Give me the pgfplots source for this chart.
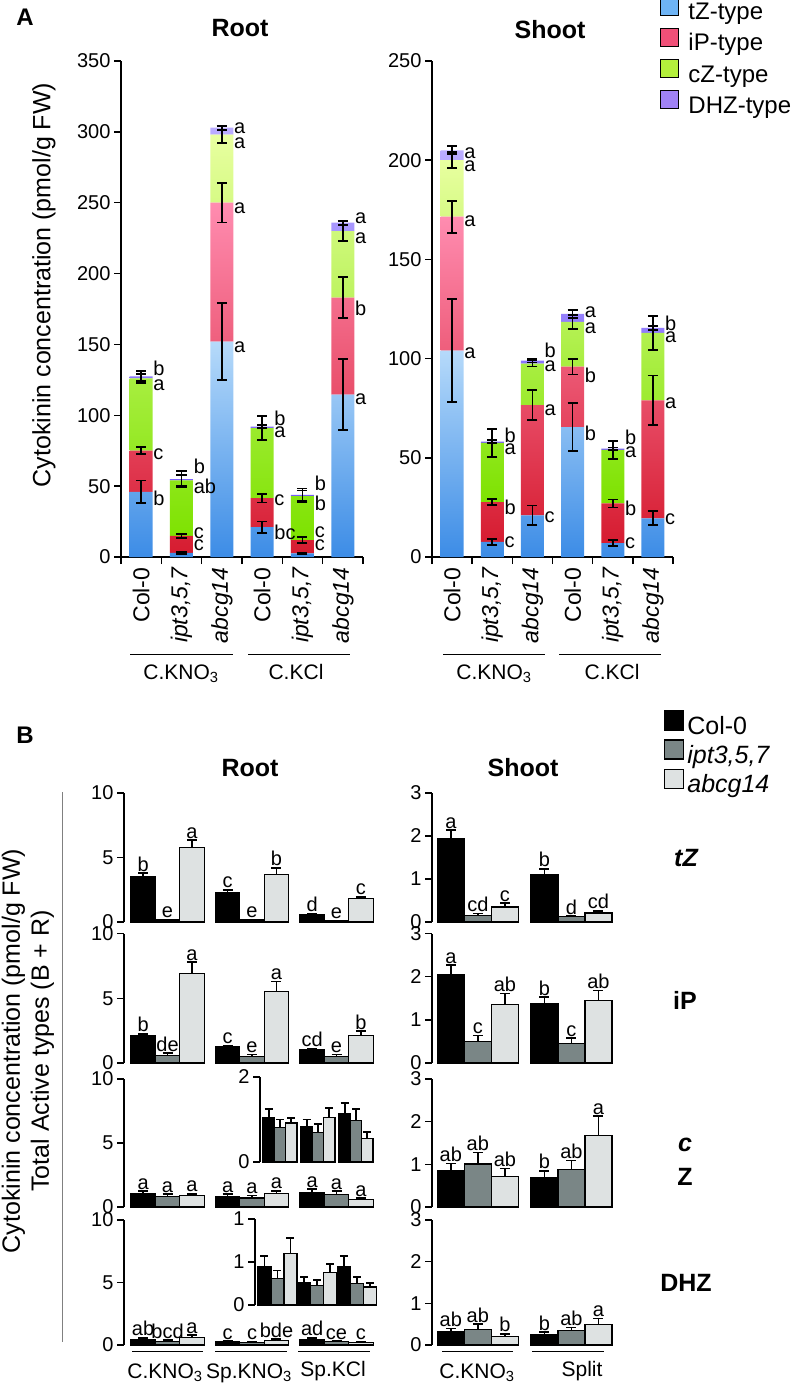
\documentclass[border=0pt]{standalone}
\usepackage{fontspec}
\setmainfont{Liberation Sans}
\usepackage{pgfplots}
\usepackage{pgfplotstable}
\pgfplotsset{compat=1.18}
\newcommand{\fs}[1]{\fontsize{#1}{#1}\selectfont}

\definecolor{tzb}{RGB}{60,140,230}
\definecolor{tzt}{RGB}{182,218,250}
\definecolor{ipb}{RGB}{214,28,48}
\definecolor{ipt}{RGB}{255,140,176}
\definecolor{czb}{RGB}{125,226,0}
\definecolor{czt}{RGB}{232,255,160}
\definecolor{dhb}{RGB}{118,92,250}
\definecolor{dht}{RGB}{186,172,255}
\definecolor{lgtz}{RGB}{110,180,245}
\definecolor{lgip}{RGB}{240,80,120}
\definecolor{lgcz}{RGB}{180,240,60}
\definecolor{lgdh}{RGB}{160,130,245}
\definecolor{cgray}{RGB}{122,134,134}
\definecolor{clight}{RGB}{222,226,226}

% ---------------- Panel A data ----------------
\pgfplotstableread{
x tz ip cz dh
0 46 29 51 1.5
1 3 12 39 1
2 152 98 48 5
3 21 20.5 49.5 1
4 2.5 9.5 31 0.8
5 114.5 68.5 47 6
}\rootA
\pgfplotstableread{
x y e
0 46 8
0 75 2.5
0 126 3
0 127.5 3.5
1 3 0.8
1 15 1.5
1 54 4
1 55 5.5
2 152 27
2 250 14
2 298 6
2 303 1.5
3 21 4
3 41.5 3
3 91 8.5
3 92 1
4 2.5 0.5
4 12 2
4 43 4
4 43.8 4.5
5 114.5 25
5 183 14.5
5 230 7
5 236 1.5
}\rootAerr
\pgfplotstableread{
x y l
0.3 133 b
0.3 121 a
0.3 72.7 c
0.3 41.6 b
1.3 64 b
1.3 50 ab
1.3 17 c
1.3 8.5 c
2.3 302.7 a
2.3 292 a
2.3 246 a
2.3 148 a
3.3 98 b
3.3 88 a
3.3 40 c
3.3 17.6 bc
4.3 52 b
4.3 38 b
4.3 17.6 c
4.3 8.5 c
5.3 239 a
5.3 225 a
5.3 175.7 b
5.3 111 a
}\rootAlab
\pgfplotstableread{
x tz ip cz dh
0 104 67.5 28.5 5
1 7.6 20 29.9 0.7
2 21 55.5 21 1.5
3 65.5 30.5 22.5 4
4 7 20 27 0.6
5 19.5 59.5 34 2.5
}\shootA
\pgfplotstableread{
x y e
0 104 26
0 171.5 8
0 200 4
0 205 2
1 7.6 1.5
1 27.6 1.5
1 57.5 7
1 58.2 0.6
2 21 5
2 76.5 7.5
2 97.5 1.5
2 99 1
3 65.5 12
3 96 4
3 118.5 3.5
3 122.5 2
4 7 1.5
4 27 2
4 54 4.5
4 54.6 0.6
5 19.5 3.5
5 79 12.5
5 113 8.5
5 115.5 1
}\shootAerr
\pgfplotstableread{
x y l
0.3 203.6 a
0.3 197 a
0.3 169 a
0.3 102.8 a
1.3 61.5 b
1.3 54.4 a
1.3 25.2 b
1.3 7.6 c
2.3 104 b
2.3 96 a
2.3 74 a
2.3 20 c
3.3 123.5 a
3.3 115.4 a
3.3 91.7 b
3.3 62.5 b
4.3 60.5 b
4.3 53 a
4.3 24.7 b
4.3 7 c
5.3 118 b
5.3 111 a
5.3 77.6 a
5.3 19 c
}\shootAlab

% ---------------- Panel B data ----------------
\pgfplotstableread{
g c ce cl p pe pl a ae al
0 3.5 0.3 b 0.15 0.05 e 5.8 0.55 a
1 2.25 0.25 c 0.15 0.05 e 3.7 0.5 b
2 0.55 0.1 d 0.08 0.03 e 1.8 0.15 c
}\rtZ
\pgfplotstableread{
g c ce cl p pe pl a ae al
0 2.1 0.15 b 0.6 0.17 de 6.9 0.9 a
1 1.25 0.1 c 0.5 0.15 e 5.55 0.75 a
2 1.0 0.1 cd 0.5 0.15 e 2.15 0.3 b
}\riP
\pgfplotstableread{
g c ce cl p pe pl a ae al
0 1.04 0.21 a 0.82 0.18 a 0.92 0.12 a
1 0.83 0.17 a 0.7 0.2 a 1.04 0.23 a
2 1.15 0.24 a 0.97 0.28 a 0.56 0.15 a
}\rcZ
\pgfplotstableread{
g c ce cl p pe pl a ae al
0 0.45 0.12 ab 0.31 0.09 bcd 0.6 0.18 a
1 0.26 0.065 c 0.225 0.065 c 0.375 0.1 bde
2 0.45 0.12 ad 0.25 0.075 ce 0.21 0.05 c
}\rDH
\pgfplotstableread{
g c ce cl p pe pl a ae al
0 1.93 0.21 a 0.16 0.04 cd 0.35 0.09 c
1 1.1 0.14 b 0.12 0.02 d 0.21 0.05 cd
}\stZ
\pgfplotstableread{
g c ce cl p pe pl a ae al
0 2.04 0.23 a 0.5 0.14 c 1.35 0.26 ab
1 1.37 0.16 b 0.46 0.12 c 1.44 0.24 ab
}\siP
\pgfplotstableread{
g c ce cl p pe pl a ae al
0 0.85 0.17 ab 1.01 0.27 ab 0.71 0.19 ab
1 0.69 0.16 b 0.88 0.21 ab 1.68 0.45 a
}\scZ
\pgfplotstableread{
g c ce cl p pe pl a ae al
0 0.33 0.07 ab 0.38 0.12 ab 0.21 0.06 b
1 0.25 0.06 b 0.34 0.08 ab 0.5 0.14 a
}\sDH

\pgfplotsset{
  base/.style={scale only axis, anchor=south west, enlargelimits=false, clip=false,
    axis line style={line width=1.5pt, -}, tick style={line width=1.5pt, black},
    tick align=outside, major tick length=7pt,
    tick label style={font=\fs{20}}, /pgf/number format/assume math mode=true},
  errA/.style={draw=none, mark=none, forget plot, error bars/.cd, y dir=both, y explicit,
    error bar style={draw=black, line width=1.8pt},
    error mark options={rotate=90, draw=black, line width=1.8pt, mark size=5pt}},
  labA/.style={draw=none, mark=none, forget plot, nodes near coords, point meta=explicit symbolic,
    nodes near coords style={anchor=west, font=\fs{20}, inner sep=0pt, text=black}},
  Ax/.style={base, width=242pt, height=496pt, xmin=-0.5, xmax=5.5, ymin=0},
  broot/.style={base, width=251pt, xmin=-0.515, xmax=2.455, ymin=0, ymax=10, ytick={0,5,10},
    axis x line=none, axis y line*=left, xtick=\empty},
  bshoot/.style={base, width=182pt, xmin=-0.49, xmax=1.455, ymin=0, ymax=3, ytick={0,1,2,3},
    axis x line=none, axis y line*=left, xtick=\empty},
  bbar/.style={ybar, bar width=#1, bar shift=0pt, draw=black, line width=1.2pt, forget plot},
  berr/.style={error bars/.cd, y dir=plus, y explicit, error bar style={line width=1.7pt},
    error mark options={rotate=90, line width=1.7pt, mark size=#1}},
  blab/.style={draw=none, mark=none, forget plot, nodes near coords, point meta=explicit symbolic,
    nodes near coords style={anchor=south, font=\fs{20}, inner sep=1.5pt, text=black}},
}

% #1 table, #2 bar width, #3 cap size, #4 offset (axis units)
\newcommand{\bbars}[4]{%
  \addplot[bbar=#2, fill=black, berr=#3] table[x expr=\thisrow{g}-#4, y=c, y error=ce]{#1};
  \addplot[bbar=#2, fill=cgray, berr=#3] table[x=g, y=p, y error=pe]{#1};
  \addplot[bbar=#2, fill=clight, berr=#3] table[x expr=\thisrow{g}+#4, y=a, y error=ae]{#1};
}
\newcommand{\blabs}[2]{%
  \addplot[blab] table[x expr=\thisrow{g}-#2, y expr=\thisrow{c}+\thisrow{ce}, meta=cl]{#1};
  \addplot[blab] table[x=g, y expr=\thisrow{p}+\thisrow{pe}, meta=pl]{#1};
  \addplot[blab] table[x expr=\thisrow{g}+#2, y expr=\thisrow{a}+\thisrow{ae}, meta=al]{#1};
}

\begin{document}
\begin{tikzpicture}
\useasboundingbox (0pt,0pt) rectangle (797pt,-1384pt);

% ================= PANEL A =================
\node[font=\fs{24}\bfseries] at (25pt,-17pt) {A};
\node[font=\fs{25}\bfseries] at (240pt,-28pt) {Root};
\node[font=\fs{25}\bfseries] at (550pt,-30pt) {Shoot};
\node[font=\fs{25}, rotate=90] at (44pt,-285pt) {Cytokinin concentration (pmol/g FW)};

% Root stacked
\begin{axis}[Ax, at={(121pt,-557pt)}, ymax=350, ytick={0,50,...,350},
  axis x line*=bottom, axis y line*=left,
  ybar stacked, bar width=23pt,
  xtick={0,...,5},
  xticklabels={Col-0,{\itshape ipt3,5,7},{\itshape abcg14},Col-0,{\itshape ipt3,5,7},{\itshape abcg14}},
  xticklabel style={rotate=90, anchor=east, font=\fs{23}},
  minor xtick={-0.5,0.5,...,5.5}, major x tick style={draw=none}, minor tick length=7pt]
\addplot[draw=none, bottom color=tzb, top color=tzt] table[x=x,y=tz]{\rootA};
\addplot[draw=none, bottom color=ipb, top color=ipt] table[x=x,y=ip]{\rootA};
\addplot[draw=none, bottom color=czb, top color=czt] table[x=x,y=cz]{\rootA};
\addplot[draw=none, bottom color=dhb, top color=dht] table[x=x,y=dh]{\rootA};
\end{axis}
\begin{axis}[Ax, at={(121pt,-557pt)}, ymax=350, hide axis]
\addplot[errA] table[x=x,y=y,y error=e]{\rootAerr};
\addplot[labA] table[x=x,y=y,meta=l]{\rootAlab};
\end{axis}

% Shoot stacked
\begin{axis}[Ax, at={(432pt,-557pt)}, width=241pt, ymax=250, ytick={0,50,...,250},
  axis x line*=bottom, axis y line*=left,
  ybar stacked, bar width=23pt,
  xtick={0,...,5},
  xticklabels={Col-0,{\itshape ipt3,5,7},{\itshape abcg14},Col-0,{\itshape ipt3,5,7},{\itshape abcg14}},
  xticklabel style={rotate=90, anchor=east, font=\fs{23}},
  minor xtick={-0.5,0.5,...,5.5}, major x tick style={draw=none}, minor tick length=7pt]
\addplot[draw=none, bottom color=tzb, top color=tzt] table[x=x,y=tz]{\shootA};
\addplot[draw=none, bottom color=ipb, top color=ipt] table[x=x,y=ip]{\shootA};
\addplot[draw=none, bottom color=czb, top color=czt] table[x=x,y=cz]{\shootA};
\addplot[draw=none, bottom color=dhb, top color=dht] table[x=x,y=dh]{\shootA};
\end{axis}
\begin{axis}[Ax, at={(432pt,-557pt)}, width=241pt, ymax=250, hide axis,
  legend style={at={(axis description cs:0.934,1.134)}, anchor=north west, draw=none, fill=none,
    font=\fs{24}, row sep=3pt, nodes={inner sep=1pt, text height=15pt, text depth=4pt},
    /tikz/every odd column/.append style={column sep=8pt}},
  legend cell align=left,
  legend image code/.code={\draw[#1, draw=black, line width=1.2pt] (0pt,-1pt) rectangle (18pt,17pt);}]
\addlegendimage{fill=lgtz}\addlegendentry{tZ-type}
\addlegendimage{fill=lgip}\addlegendentry{iP-type}
\addlegendimage{fill=lgcz}\addlegendentry{cZ-type}
\addlegendimage{fill=lgdh}\addlegendentry{DHZ-type}
\addplot[errA] table[x=x,y=y,y error=e]{\shootAerr};
\addplot[labA] table[x=x,y=y,meta=l]{\shootAlab};
\end{axis}

% group lines A
\draw[line width=1pt] (130pt,-654pt) -- (233pt,-654pt);
\draw[line width=1pt] (248pt,-654pt) -- (350pt,-654pt);
\draw[line width=1pt] (443pt,-654pt) -- (545pt,-654pt);
\draw[line width=1pt] (559pt,-654pt) -- (661pt,-654pt);
\node[font=\fs{21}] at (181pt,-674pt) {C.KNO\textsubscript{3}};
\node[font=\fs{21}] at (296pt,-672pt) {C.KCl};
\node[font=\fs{21}] at (494pt,-674pt) {C.KNO\textsubscript{3}};
\node[font=\fs{21}] at (612pt,-672pt) {C.KCl};

% ================= PANEL B =================
\node[font=\fs{24}\bfseries] at (25pt,-735pt) {B};
\node[font=\fs{25}\bfseries] at (250pt,-768pt) {Root};
\node[font=\fs{25}\bfseries] at (523pt,-768pt) {Shoot};
\node[font=\fontsize{25}{29}\selectfont, rotate=90, align=center] at (28pt,-1051pt)
  {Cytokinin concentration (pmol/g FW)\\Total Active types (B + R)};
\draw[gray, line width=0.8pt] (62pt,-792pt) -- (62pt,-1342pt);

% Root rows
\begin{axis}[broot, at={(124pt,-922pt)}, height=129pt]
\bbars{\rtZ}{24.4pt}{5pt}{0.2888}\blabs{\rtZ}{0.2888}
\end{axis}
\begin{axis}[broot, at={(124pt,-1063pt)}, height=129.5pt]
\bbars{\riP}{24.4pt}{5pt}{0.2888}\blabs{\riP}{0.2888}
\end{axis}
\begin{axis}[broot, at={(124pt,-1207pt)}, height=128pt]
\bbars{\rcZ}{24.4pt}{5pt}{0.2888}\blabs{\rcZ}{0.2888}
\end{axis}
\begin{axis}[broot, at={(124pt,-1345pt)}, height=125pt]
\bbars{\rDH}{24.4pt}{5pt}{0.2888}\blabs{\rDH}{0.2888}
\end{axis}
% insets
\begin{axis}[base, at={(260pt,-1162pt)}, width=115pt, height=85pt, xmin=-0.526, xmax=2.5,
  ymin=0, ymax=2, ytick={0,2}, axis x line=none, axis y line*=left, xtick=\empty]
\bbars{\rcZ}{11.3pt}{4pt}{0.2978}
\end{axis}
\begin{axis}[base, at={(255pt,-1305pt)}, width=121pt, height=86pt, xmin=-0.566, xmax=2.48,
  ymin=0, ymax=1, ytick={0,0.5,1}, yticklabels={0,1,1}, axis x line=none, axis y line*=left, xtick=\empty]
\bbars{\rDH}{13pt}{4pt}{0.327}
\end{axis}

% Shoot rows
\begin{axis}[bshoot, at={(432pt,-922pt)}, height=129pt,
  legend style={at={(axis description cs:1.258,1.658)}, anchor=north west, draw=none, fill=none,
    font=\fs{25}, row sep=0pt, nodes={inner sep=1pt, text height=15pt, text depth=4pt},
    /tikz/every odd column/.append style={column sep=2pt}},
  legend cell align=left,
  legend image code/.code={\draw[#1, draw=black, line width=1.2pt] (0pt,-1pt) rectangle (19pt,18pt);}]
\addlegendimage{fill=black}\addlegendentry{Col-0}
\addlegendimage{fill=cgray}\addlegendentry{\itshape ipt3,5,7}
\addlegendimage{fill=clight}\addlegendentry{\itshape abcg14}
\bbars{\stZ}{27pt}{5pt}{0.2888}\blabs{\stZ}{0.2888}
\end{axis}
\begin{axis}[bshoot, at={(432pt,-1063pt)}, height=129.5pt]
\bbars{\siP}{27pt}{5pt}{0.2888}\blabs{\siP}{0.2888}
\end{axis}
\begin{axis}[bshoot, at={(432pt,-1207pt)}, height=128pt]
\bbars{\scZ}{27pt}{5pt}{0.2888}\blabs{\scZ}{0.2888}
\end{axis}
\begin{axis}[bshoot, at={(432pt,-1345pt)}, height=125pt]
\bbars{\sDH}{27pt}{5pt}{0.2888}\blabs{\sDH}{0.2888}
\end{axis}

% row labels
\node[font=\fs{25}\bfseries\itshape] at (686pt,-858pt) {tZ};
\node[font=\fs{25}\bfseries] at (685pt,-1000pt) {iP};
\node[font=\fs{25}\bfseries\itshape] at (685pt,-1145pt) {c};
\node[font=\fs{25}\bfseries] at (685pt,-1177pt) {Z};
\node[font=\fs{25}\bfseries] at (686pt,-1283pt) {DHZ};

% group lines B
\draw[line width=0.8pt] (132pt,-1351pt) -- (203pt,-1351pt);
\draw[line width=0.8pt] (215pt,-1351pt) -- (287pt,-1351pt);
\draw[line width=0.8pt] (298pt,-1351pt) -- (370pt,-1351pt);
\draw[line width=0.8pt] (442pt,-1351pt) -- (513pt,-1351pt);
\draw[line width=0.8pt] (532pt,-1351pt) -- (604pt,-1351pt);
\node[font=\fs{21}] at (165pt,-1373pt) {C.KNO\textsubscript{3}};
\node[font=\fs{21}] at (249pt,-1373pt) {Sp.KNO\textsubscript{3}};
\node[font=\fs{21}] at (333pt,-1371pt) {Sp.KCl};
\node[font=\fs{21}] at (477pt,-1373pt) {C.KNO\textsubscript{3}};
\node[font=\fs{21}] at (582pt,-1371pt) {Split};
\end{tikzpicture}
\end{document}
